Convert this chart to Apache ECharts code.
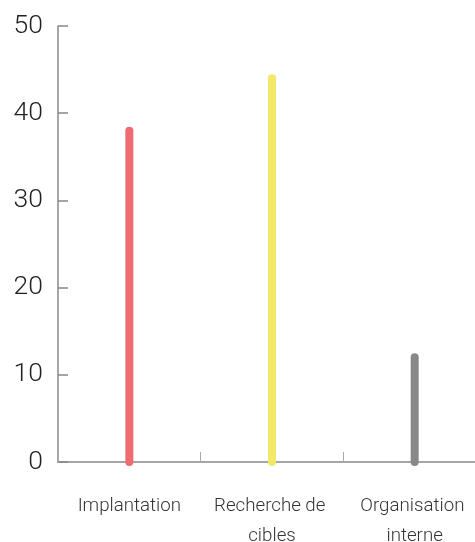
<!DOCTYPE html>
<html><head><meta charset="utf-8">
<script src="https://cdn.jsdelivr.net/npm/echarts@6/dist/echarts.min.js"></script>
<style>html,body{margin:0;padding:0;background:#fff}#c{width:475px;height:542px}</style>
</head><body><div id="c"></div>
<script>
const categories = ['Implantation', 'Recherche de cibles', 'Organisation interne'];
const values = [38, 44, 12];
const barColors = ['#ef6b72', '#f2e96a', '#888888'];
const yTicks = [0, 10, 20, 30, 40, 50];

const chart = echarts.init(document.getElementById('c'), null, {renderer: 'canvas'});
chart.setOption({
  animation: false,
  grid: {left: 58, right: -11, top: 26, bottom: 80, containLabel: false, outerBoundsMode: 'none'},
  xAxis: {
    type: 'category', data: categories,
    axisLine: {lineStyle: {color: '#888', width: 1.5}},
    axisTick: {show: true, inside: true, length: 10, lineStyle: {color: '#aaa', width: 1}},
    axisLabel: {fontFamily: 'Roboto', fontWeight: 300, fontSize: 18.7, color: '#333', margin: 29, lineHeight: 30,
      width: 130, overflow: 'break', interval: 0}
  },
  yAxis: {
    type: 'value', min: yTicks[0], max: yTicks[yTicks.length-1], interval: 10,
    splitLine: {show: false},
    axisLine: {show: true, lineStyle: {color: '#888', width: 1.5}},
    axisTick: {show: true, inside: true, length: 10, lineStyle: {color: '#888', width: 1.5}},
    axisLabel: {fontFamily: 'Roboto', fontWeight: 300, fontSize: 26.5, color: '#222', margin: 15}
  },
  series: [{
    type: 'custom',
    data: values.map((v, i) => [i, v]),
    renderItem: function (params, api) {
      const i = api.value(0);
      const top = api.coord([i, api.value(1)]);
      const bot = api.coord([i, 0]);
      return {
        type: 'line',
        shape: {x1: top[0], y1: top[1], x2: bot[0], y2: bot[1]},
        style: {stroke: barColors[i], lineWidth: 8, lineCap: 'round'}
      };
    }
  }]
});
</script></body></html>
